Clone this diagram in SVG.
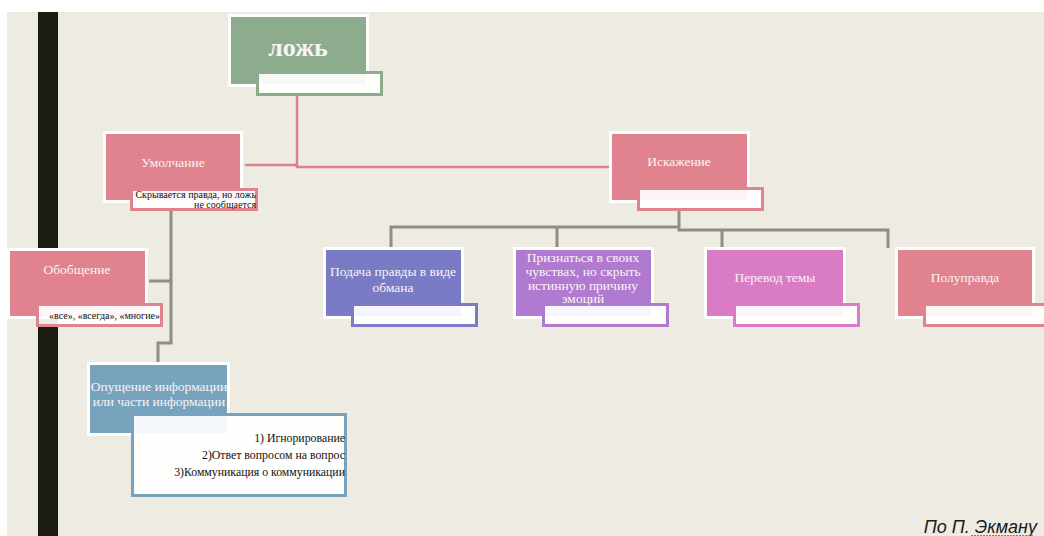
<svg xmlns="http://www.w3.org/2000/svg" width="1044" height="536" viewBox="0 0 1044 536">
<style>
.main{stroke:#ffffff;stroke-width:3}
.sub{fill:#ffffff;fill-opacity:0.92;stroke-width:3}
.t{font-family:"Liberation Serif","Times New Roman",serif;fill:#fbf3f3;font-size:13.5px;text-anchor:middle}
.s{font-family:"Liberation Serif","Times New Roman",serif;fill:#111111;text-anchor:end}
.pc{fill:none;stroke:#e07f8e;stroke-width:2.5}
.gc{fill:none;stroke:#8e8e86;stroke-width:3}
</style>
<rect x="0" y="0" width="1044" height="536" fill="#ffffff"/>
<rect x="7" y="12" width="1037" height="524" fill="#eeebe3"/>
<rect x="38" y="12" width="20" height="524" fill="#1b1c10"/>
<g id="connectors">
<path class="pc" d="M245,165 H297 V96 M297,96 V167 H610"/>
<path class="gc" d="M679,211 V230 M391,248 V227 H679 V230 H888 V248 M557,227 V248 M722,230 V248"/>
<path class="gc" d="M171,211 V343 H158 V363 M149,281 H171"/>
</g>
<g id="lozh">
<rect class="main" x="229.5" y="15.5" width="138" height="70" fill="#8dac8e"/>
<rect class="sub" x="257.5" y="72.5" width="124" height="22" stroke="#8dac8e"/>
<text x="298" y="56" class="t" style="font-size:26px;font-weight:bold">ложь</text>
</g>
<g id="umolchanie">
<rect class="main" x="104.5" y="132.5" width="137" height="69" fill="#e0838f"/>
<rect class="sub" x="131.5" y="189.5" width="125" height="20" stroke="#e0838f"/>
<text x="173" y="167" class="t">Умолчание</text>
<text class="s" style="font-size:10px"><tspan x="256" y="198">Скрывается правда, но ложь</tspan><tspan x="256" y="208">не сообщается</tspan></text>
</g>
<g id="iskazhenie">
<rect class="main" x="610.5" y="132.5" width="138" height="69" fill="#e0838f"/>
<rect class="sub" x="638.5" y="188.5" width="124" height="21" stroke="#e0838f"/>
<text x="679" y="166" class="t">Искажение</text>
</g>
<g id="obobshchenie">
<rect class="main" x="8.5" y="249.5" width="138" height="68" fill="#e0838f"/>
<rect class="sub" x="37.5" y="304.5" width="124" height="21" stroke="#e0838f"/>
<text x="77" y="274" class="t">Обобщение</text>
<text x="160" y="319" class="s" style="font-size:10px">«все», «всегда», «многие»</text>
</g>
<g id="podacha">
<rect class="main" x="324.5" y="248.5" width="138" height="69" fill="#7a7bc5"/>
<rect class="sub" x="352.5" y="304.5" width="124" height="21" stroke="#7a7bc5"/>
<text class="t"><tspan x="393" y="276">Подача правды в виде</tspan><tspan x="393" y="292">обмана</tspan></text>
</g>
<g id="priznatsya">
<rect class="main" x="514.5" y="248.5" width="138" height="69" fill="#b07ad0"/>
<rect class="sub" x="543.5" y="304.5" width="124" height="21" stroke="#b07ad0"/>
<text class="t"><tspan x="583" y="262">Признаться в своих</tspan><tspan x="583" y="276">чувствах, но скрыть</tspan><tspan x="583" y="290">истинную причину</tspan><tspan x="583" y="303">эмоций</tspan></text>
</g>
<g id="perevod">
<rect class="main" x="705.5" y="248.5" width="139" height="69" fill="#da7cc5"/>
<rect class="sub" x="734.5" y="304.5" width="124" height="21" stroke="#da7cc5"/>
<text x="775" y="282" class="t">Перевод темы</text>
</g>
<g id="poluprawda">
<rect class="main" x="896.5" y="248.5" width="137" height="69" fill="#e0838f"/>
<rect class="sub" x="924.5" y="304.5" width="124" height="21" stroke="#e0838f"/>
<text x="965" y="282" class="t">Полуправда</text>
</g>
<g id="opushchenie">
<rect class="main" x="88.5" y="363.5" width="140" height="71" fill="#77a3bd"/>
<rect class="sub" x="132.5" y="414.5" width="213" height="81" stroke="#77a3bd"/>
<text class="t" style="font-size:13.5px"><tspan x="159" y="391">Опущение информации</tspan><tspan x="159" y="406">или части информации</tspan></text>
<text class="s" style="font-size:11.8px"><tspan x="345" y="442">1) Игнорирование</tspan><tspan x="345" y="459">2)Ответ вопросом на вопрос</tspan><tspan x="345" y="476">3)Коммуникация о коммуникации</tspan></text>
</g>
<text x="1037" y="533" style="font-family:'Liberation Sans',Arial,sans-serif;font-style:italic;font-size:18px;fill:#1a1a1a;text-anchor:end">По П. Экману</text>
<path d="M971,535.5 H1033" stroke="#e05060" stroke-width="1" stroke-dasharray="2,1" fill="none"/>
</svg>
